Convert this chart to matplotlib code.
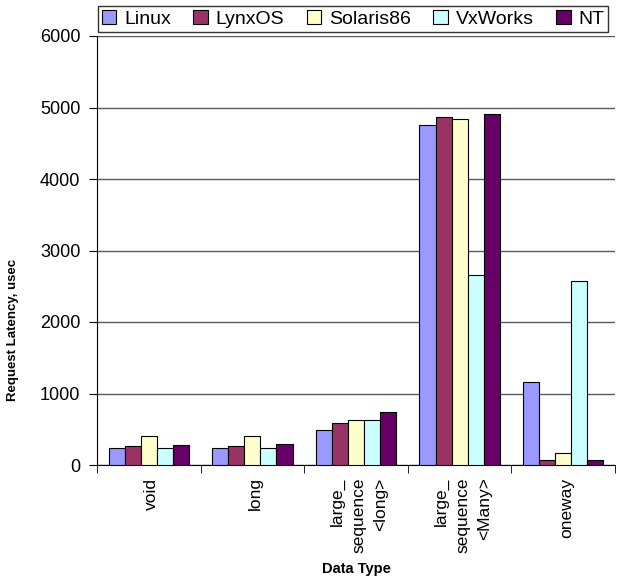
import numpy as np
import matplotlib
matplotlib.use('Agg')
from matplotlib import pyplot as plt

plt.rcParams['font.family'] = ['Liberation Sans', 'DejaVu Sans']

categories = ['void', 'long', 'large_\nsequence\n<long>', 'large_\nsequence\n<Many>', 'oneway']
series_names = ['Linux', 'LynxOS', 'Solaris86', 'VxWorks', 'NT']
linux = [243, 243, 494, 4749, 1159]
lynxos = [265, 265, 586, 4874, 74]
solaris86 = [404, 400, 628, 4837, 168]
vxworks = [232, 243, 628, 2654, 2570]
nt = [283, 289, 735, 4907, 74]
colors = ['#9999FF', '#993366', '#FFFFCC', '#CCFFFF', '#660066']
y_ticks = [0, 1000, 2000, 3000, 4000, 5000, 6000]

fig = plt.figure(figsize=(6.21, 5.77), dpi=100)
ax = fig.add_axes([97 / 621, 1 - 465 / 577, 518 / 621, 429 / 577])

x = np.arange(len(categories))
width = 0.155
for i, (vals, name, col) in enumerate(zip([linux, lynxos, solaris86, vxworks, nt], series_names, colors)):
    ax.bar(x + (i - 2) * width, vals, width, color=col, edgecolor='black', linewidth=0.8,
           label=name, zorder=3)

ax.set_xlim(-0.5, len(categories) - 0.5)
ax.set_ylim(0, 6000)
ax.set_yticks(y_ticks)
ax.yaxis.grid(True, color='0.35', linewidth=1)
ax.set_axisbelow(True)
for s in ['top', 'right']:
    ax.spines[s].set_visible(False)

# group labels at centers, tick marks on the boundaries
ax.set_xticks(x + 0.03)
ax.set_xticklabels(categories, rotation=90, va='top', ha='center', multialignment='right',
                   fontsize=12.5, linespacing=1.55)
ax.tick_params(axis='x', which='major', length=0, pad=9)
ax.set_xticks(np.arange(-0.5, len(categories)), minor=True)
ax.tick_params(axis='x', which='minor', length=6, direction='out')
ax.tick_params(axis='y', length=6, direction='out', labelsize=13, pad=6)

ax.set_ylabel('Request Latency, usec', fontsize=9.5, fontweight='bold')
ax.yaxis.set_label_coords(-0.151, 0.315)
ax.set_xlabel('Data Type', fontsize=10.5, fontweight='bold')
ax.xaxis.set_label_coords(0.5, -0.225)

leg = fig.legend(loc='upper left', bbox_to_anchor=(98 / 621, 1 - 6 / 577), ncol=5,
                 fontsize=14, frameon=True, fancybox=False, borderaxespad=0,
                 handlelength=0.75, handleheight=0.75, handletextpad=0.4,
                 columnspacing=1.15, borderpad=0.2)
leg.get_frame().set_edgecolor('black')
leg.get_frame().set_linewidth(1)

fig.savefig('out.png', dpi=100)
